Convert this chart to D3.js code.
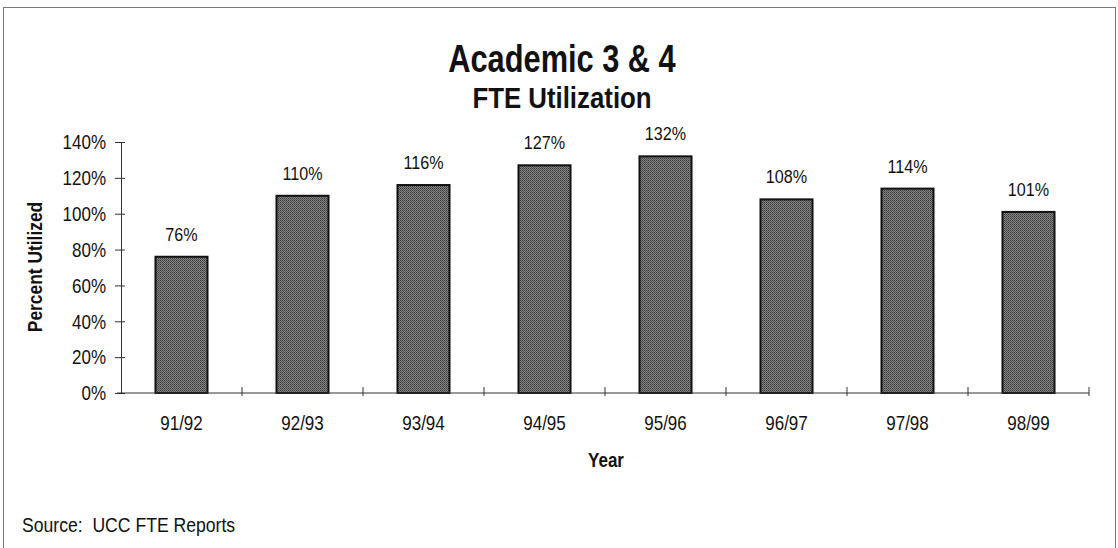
<!DOCTYPE html>
<html><head><meta charset="utf-8">
<script src="https://cdn.jsdelivr.net/npm/d3@7"></script>
<style>
html,body{margin:0;padding:0;background:#fff;}
text{font-family:"Liberation Sans Narrow","Arial Narrow","Liberation Sans",Arial,sans-serif;fill:#111;}
</style></head>
<body>
<svg id="chart" width="1118" height="548"></svg>
<script>
const categories = ["91/92","92/93","93/94","94/95","95/96","96/97","97/98","98/99"];
const values = [76,110,116,127,132,108,114,101];
const yTicks = [0,20,40,60,80,100,120,140];
const titleText = "Academic 3 & 4";
const subtitleText = "FTE Utilization";
const yTitle = "Percent Utilized";
const xTitle = "Year";
const sourceText = "Source:  UCC FTE Reports";

const svg = d3.select("#chart");
const SX = 0.85; // horizontal condense to mimic a narrow face

function label(parent, x, y, str, size, opts = {}) {
  const sx = opts.sx || SX;
  const rot = opts.rotate ? ` rotate(${opts.rotate})` : "";
  return parent.append("text")
    .attr("transform", `translate(${x},${y})${rot} scale(${sx},1)`)
    .attr("text-anchor", opts.anchor || "middle")
    .attr("font-size", size)
    .attr("font-weight", opts.bold ? "bold" : null)
    .attr("xml:space", "preserve")
    .style("white-space", "pre")
    .text(str);
}

// halftone-like pattern for bars
const defs = svg.append("defs");
const pat = defs.append("pattern").attr("id","ht").attr("width",2).attr("height",2).attr("patternUnits","userSpaceOnUse");
pat.append("rect").attr("width",2).attr("height",2).attr("fill","#858585");
pat.append("rect").attr("width",1).attr("height",1).attr("fill","#383838");
pat.append("rect").attr("x",1).attr("y",1).attr("width",1).attr("height",1).attr("fill","#525252");

// frame
svg.append("rect").attr("x",3.5).attr("y",7.5).attr("width",1112).attr("height",560)
  .attr("fill","none").attr("stroke","#777").attr("stroke-width",1);

const x = d3.scaleBand().domain(categories).range([121,1089]).paddingInner(0.57).paddingOuter(0.285);
const y = d3.scaleLinear().domain([0,140]).range([393,142]);

// titles
label(svg, 562, 72, titleText, 38, {bold:true, sx:0.81});
label(svg, 562, 108, subtitleText, 29, {bold:true, sx:0.89});

// bars
svg.append("g").selectAll("rect").data(values).join("rect")
  .attr("x",(d,i)=>x(categories[i]))
  .attr("y",d=>y(d))
  .attr("width",x.bandwidth())
  .attr("height",d=>y(0)-y(d))
  .attr("fill","url(#ht)")
  .attr("stroke","#111").attr("stroke-width",2);

// value labels
const gv = svg.append("g");
values.forEach((v,i)=>{
  label(gv, x(categories[i])+x.bandwidth()/2, y(v)-16, v+"%", 19);
});

// y axis
const yAxis = d3.axisLeft(y).tickValues(yTicks).tickFormat(d=>d+"%").tickSize(6).tickPadding(0);
const gy = svg.append("g").attr("transform","translate(121,0)").call(yAxis);
gy.select(".domain").attr("stroke","#333");
gy.selectAll(".tick line").attr("stroke","#333").attr("x2",-6).attr("x1",4);
gy.selectAll(".tick text").attr("font-size",20).attr("font-family",null).attr("fill","#111")
  .attr("x",0).attr("dy","0.34em")
  .attr("transform",`translate(-15,0) scale(${SX},1)`);

// x axis line and boundary ticks
const gx = svg.append("g");
gx.append("line").attr("x1",x.range()[0]-4).attr("x2",x.range()[1]).attr("y1",y(0)).attr("y2",y(0)).attr("stroke","#333");
const bounds = d3.range(categories.length+1).map(i=>x.range()[0]+i*x.step());
gx.selectAll("line.tk").data(bounds.slice(1)).join("line").attr("class","tk")
  .attr("x1",d=>d).attr("x2",d=>d).attr("y1",y(0)-6).attr("y2",y(0)+3).attr("stroke","#333");
categories.forEach(c=>{
  label(gx, x(c)+x.bandwidth()/2, 430, c, 20);
});

// axis titles
label(svg, 42, 267, yTitle, 20, {bold:true, rotate:-90, sx:0.87});
label(svg, 606, 467, xTitle, 20, {bold:true});

// source
label(svg, 22, 532, sourceText, 20, {anchor:"start", sx:0.88});
</script>
</body></html>
